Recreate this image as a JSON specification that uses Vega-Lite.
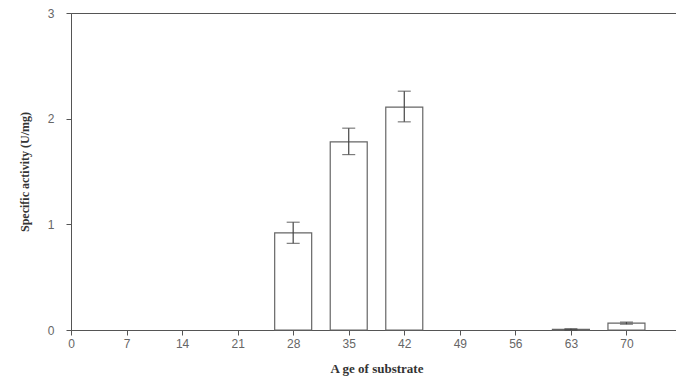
{
  "$schema": "https://vega.github.io/schema/vega-lite/v6.json",
  "autosize": {"type": "none"},
  "width": 611,
  "height": 317,
  "padding": {"left": 71, "top": 13, "right": 10, "bottom": 51},
  "background": "white",
  "config": {
    "view": {"stroke": "#555555", "strokeWidth": 1},
    "axis": {"grid": false, "domainColor": "#555555", "tickColor": "#555555", "labelColor": "#666666", "labelFont": "Liberation Sans", "labelFontSize": 12, "titleFont": "Liberation Serif", "titleFontWeight": "bold", "titleColor": "#333333", "titleFontSize": 12}
  },
  "data": {"values": [
    {"age": 28, "activity": 0.92, "lo": 0.82, "hi": 1.02},
    {"age": 35, "activity": 1.78, "lo": 1.66, "hi": 1.91},
    {"age": 42, "activity": 2.11, "lo": 1.97, "hi": 2.26},
    {"age": 63, "activity": 0.005, "lo": 0.0, "hi": 0.012},
    {"age": 70, "activity": 0.065, "lo": 0.055, "hi": 0.075}
  ]},
  "encoding": {
    "x": {"field": "age", "type": "quantitative", "scale": {"domain": [0, 77], "nice": false, "zero": false, "padding": 0},
      "axis": {"values": [0, 7, 14, 21, 28, 35, 42, 49, 56, 63, 70, 77], "format": "d", "labelFlush": false, "labelAlign": "center", "title": "A ge of substrate", "titleFontSize": 13, "tickSize": 5, "labelPadding": 3, "titlePadding": 13}}
  },
  "layer": [
    {
      "mark": {"type": "bar", "fill": "white", "stroke": "#666666", "strokeWidth": 1.2, "size": 37},
      "encoding": {
        "y": {"field": "activity", "type": "quantitative", "scale": {"domain": [0, 3], "nice": false, "padding": 0},
          "axis": {"values": [0, 1, 2, 3], "format": "d", "labelFlush": false, "title": "Specific activity (U/mg)", "tickSize": 5, "labelPadding": 12, "titlePadding": 16}}
      }
    },
    {
      "mark": {"type": "rule", "color": "#444444", "strokeWidth": 1.2},
      "encoding": {"y": {"field": "lo", "type": "quantitative"}, "y2": {"field": "hi"}}
    },
    {
      "mark": {"type": "tick", "orient": "horizontal", "color": "#444444", "size": 13, "thickness": 1.2},
      "encoding": {"y": {"field": "lo", "type": "quantitative"}}
    },
    {
      "mark": {"type": "tick", "orient": "horizontal", "color": "#444444", "size": 13, "thickness": 1.2},
      "encoding": {"y": {"field": "hi", "type": "quantitative"}}
    }
  ]
}
